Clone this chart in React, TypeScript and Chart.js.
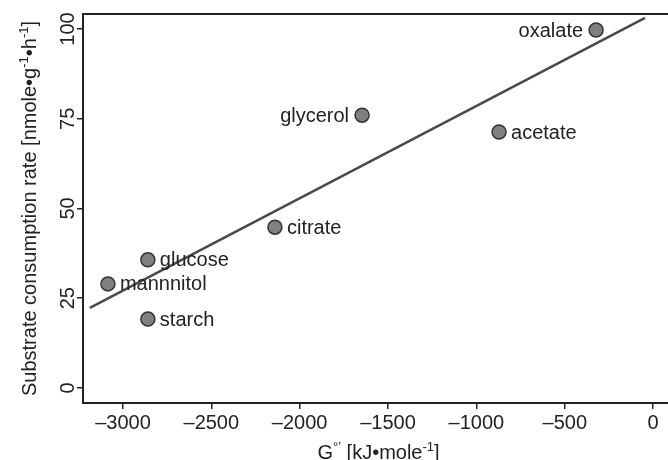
import React, { useEffect, useRef } from "react";
import { Chart, registerables } from "chart.js";

Chart.register(...registerables);

// ---- data ----
const substrateLabels = ["oxalate", "glycerol", "acetate", "citrate", "glucose", "mannnitol", "starch"];
const deltaG = [-323, -1647, -872, -2140, -2859, -3085, -2859];
const consumptionRate = [99.7, 76.0, 71.3, 44.8, 35.7, 29.0, 19.2];
const labelSide = ["left", "left", "right", "right", "right", "right", "right"];
const fitX = [-3187, -46];
const fitY = [22.3, 103.1];
const xTicks = [-3000, -2500, -2000, -1500, -1000, -500, 0];
const yTicks = [0, 25, 50, 75, 100];
const X_MIN = -3226;
const X_MAX = 84;
const Y_MIN = -4.18;
const Y_MAX = 104.18;

type Seg = { t: string; sup?: boolean };
const xTitleSegs: Seg[] = [{ t: "G" }, { t: "°’", sup: true }, { t: " [kJ•mole" }, { t: "-1", sup: true }, { t: "]" }];
const yTitleSegs: Seg[] = [
  { t: "Substrate consumption rate [nmole•g" },
  { t: "-1", sup: true },
  { t: "•h" },
  { t: "-1", sup: true },
  { t: "]" },
];

const FONT = "'Liberation Sans', Arial, Helvetica, sans-serif";
const TEXT = "#222";

function drawSegs(ctx: CanvasRenderingContext2D, segs: Seg[], baseSize: number, supSize: number, rise: number) {
  let total = 0;
  for (const s of segs) {
    ctx.font = `${s.sup ? supSize : baseSize}px ${FONT}`;
    total += ctx.measureText(s.t).width;
  }
  let x = -total / 2;
  ctx.textAlign = "left";
  ctx.textBaseline = "alphabetic";
  for (const s of segs) {
    ctx.font = `${s.sup ? supSize : baseSize}px ${FONT}`;
    ctx.fillText(s.t, x, s.sup ? -rise : 0);
    x += ctx.measureText(s.t).width;
  }
}

const decorPlugin = {
  id: "decor",
  afterDatasetsDraw(chart: any) {
    const { ctx, chartArea } = chart;
    ctx.save();
    // top frame line
    ctx.strokeStyle = "#222";
    ctx.lineWidth = 2;
    ctx.beginPath();
    ctx.moveTo(chartArea.left, chartArea.top);
    ctx.lineTo(chartArea.right + 4, chartArea.top);
    ctx.stroke();

    // point labels
    const meta = chart.getDatasetMeta(0);
    ctx.fillStyle = TEXT;
    ctx.font = `20px ${FONT}`;
    ctx.textBaseline = "middle";
    meta.data.forEach((el: any, i: number) => {
      const side = labelSide[i];
      if (side === "left") {
        ctx.textAlign = "right";
        ctx.fillText(substrateLabels[i], el.x - 13, el.y + 1);
      } else {
        ctx.textAlign = "left";
        ctx.fillText(substrateLabels[i], el.x + 12, el.y + 1);
      }
    });

    // x title
    ctx.save();
    ctx.translate((chartArea.left + chartArea.right) / 2 + 3, 459);
    drawSegs(ctx, xTitleSegs, 20, 13, 8);
    ctx.restore();

    // y title
    ctx.save();
    ctx.translate(36, (chartArea.top + chartArea.bottom) / 2);
    ctx.rotate(-Math.PI / 2);
    drawSegs(ctx, yTitleSegs, 20, 13, 8);
    ctx.restore();

    ctx.restore();
  },
};

export default function App() {
  const ref = useRef<HTMLCanvasElement | null>(null);
  useEffect(() => {
    if (!ref.current) return;
    const chart = new Chart(ref.current, {
      type: "scatter",
      data: {
        datasets: [
          {
            label: "substrates",
            data: deltaG.map((x, i) => ({ x, y: consumptionRate[i] })),
            pointRadius: 7,
            pointBackgroundColor: "#808080",
            pointBorderColor: "#333",
            pointBorderWidth: 1.5,
            showLine: false,
            order: 0,
          },
          {
            label: "fit",
            data: fitX.map((x, i) => ({ x, y: fitY[i] })),
            showLine: true,
            pointRadius: 0,
            borderColor: "#4a4a4a",
            borderWidth: 2.5,
            order: 1,
          },
        ],
      },
      options: {
        responsive: false,
        maintainAspectRatio: false,
        devicePixelRatio: 1,
        animation: false,
        layout: { autoPadding: false, padding: { top: 14, left: 0, right: 0, bottom: 0 } },
        plugins: { legend: { display: false }, tooltip: { enabled: false } },
        scales: {
          x: {
            type: "linear",
            min: X_MIN,
            max: X_MAX,
            afterFit: (s: any) => {
              s.height = 57;
              s.paddingRight = 0;
            },
            afterBuildTicks: (s: any) => {
              s.ticks = [X_MIN, ...xTicks, X_MAX].map((v) => ({ value: v }));
            },
            border: { display: true, color: "#222", width: 2 },
            grid: {
              drawOnChartArea: false,
              drawTicks: true,
              tickLength: 6,
              lineWidth: 1.5,
              color: (c: any) =>
                c.tick && (c.tick.value === X_MIN || c.tick.value === X_MAX) ? "rgba(0,0,0,0)" : "#222",
            },
            ticks: {
              color: TEXT,
              font: { family: FONT, size: 20 },
              padding: 2,
              maxRotation: 0,
              minRotation: 0,
              autoSkip: false,
              callback: (v: any) => {
                const n = Number(v);
                if (n === X_MIN || n === X_MAX) return "";
                return n < 0 ? "–" + Math.abs(n) : String(n);
              },
            },
          },
          y: {
            type: "linear",
            min: Y_MIN,
            max: Y_MAX,
            afterFit: (s: any) => {
              s.width = 83;
            },
            afterBuildTicks: (s: any) => {
              s.ticks = yTicks.map((v) => ({ value: v }));
            },
            border: { display: true, color: "#222", width: 2 },
            grid: { drawOnChartArea: false, drawTicks: true, tickLength: 6, color: "#222", lineWidth: 1.5 },
            ticks: {
              color: TEXT,
              font: { family: FONT, size: 20 },
              padding: -8,
              crossAlign: "center",
              minRotation: 90,
              maxRotation: 90,
            },
          },
        },
      },
      plugins: [decorPlugin],
    } as any);
    return () => chart.destroy();
  }, []);
  return (
    <div style={{ position: "fixed", left: 0, top: 0, width: 668, height: 460, background: "#fff" }}>
      <canvas ref={ref} width={668} height={460} style={{ display: "block" }} />
    </div>
  );
}
